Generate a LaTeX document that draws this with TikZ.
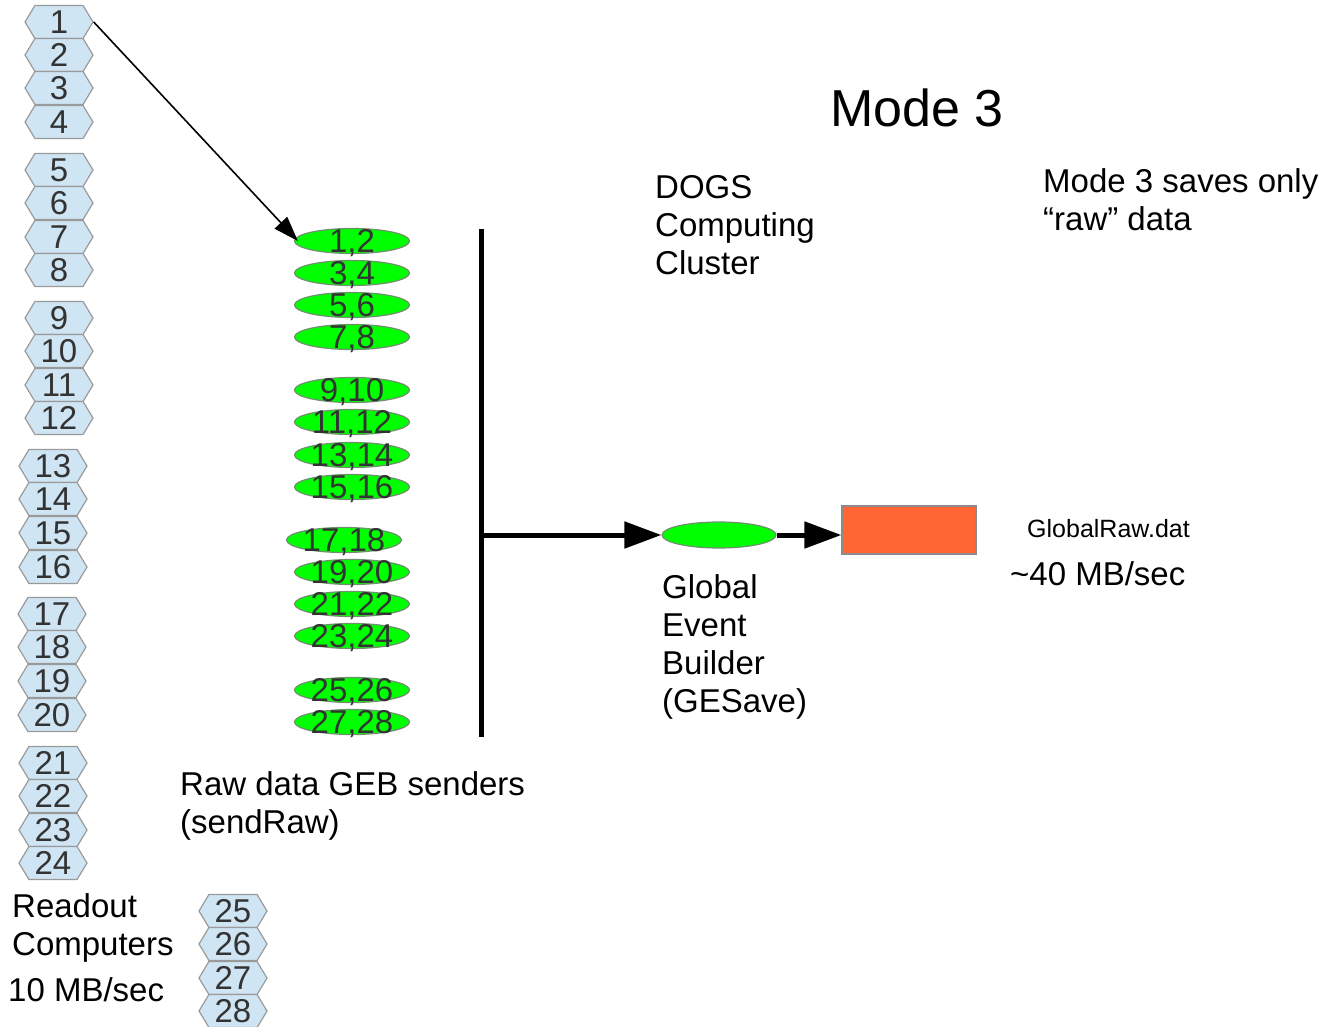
\documentclass[tikz,border=0pt]{standalone}
\usepackage{fontspec}
\setmainfont{Liberation Sans}
\usetikzlibrary{shapes.geometric,shapes.symbols,arrows.meta}

\definecolor{hexfill}{HTML}{CFE5F4}
\definecolor{hexline}{HTML}{9A9A9A}
\definecolor{numtext}{HTML}{333333}
\definecolor{nodegreen}{HTML}{00FF00}
\definecolor{greenline}{HTML}{6F8F6F}
\definecolor{diskfill}{HTML}{FF6633}
\definecolor{diskline}{HTML}{8A8A8A}

\begin{document}
\begin{tikzpicture}[x=1pt,y=-1pt,
  readout/.style={signal, signal to=west and east, signal pointer angle=118,
    minimum width=68pt, minimum height=33pt, inner sep=0pt,
    fill=hexfill, draw=hexline, line width=1.2pt, text=numtext,
    font=\fontsize{33}{33}\selectfont},
  sender/.style={ellipse, minimum width=115pt, minimum height=25pt, inner sep=0pt,
    fill=nodegreen, draw=greenline, line width=1.2pt},
  numlabel/.style={inner sep=0pt, yshift=-2pt, text=numtext, font=\fontsize{33}{33}\selectfont},
  % multi-line notes are anchored at the baseline of their last line
  note/.style={anchor=base west, inner sep=0pt, align=left,
    font=\fontsize{33}{38}\selectfont},
  flow/.style={line width=5pt, -{Triangle[length=37pt,width=26pt]}},
]
\useasboundingbox (0,0) rectangle (1327,1027);

% readout computers
\foreach \n/\x/\y in {1/59/22, 2/59/55, 3/59/88, 4/59/122,
                      5/59/170, 6/59/203, 7/59/237, 8/59/270,
                      9/59/318, 10/59/351, 11/59/385, 12/59/418,
                      13/53/466, 14/53/499, 15/53/533, 16/53/567,
                      17/52/614, 18/52/647, 19/52/681, 20/52/715,
                      21/53/763, 22/53/796, 23/53/830, 24/53/863,
                      25/233/911, 26/233/944, 27/233/978, 28/233/1011}
  \node[readout] (h\n) at (\x,\y) {\n};

% raw data senders
\foreach \a/\b/\x/\y in {1/2/352/241, 3/4/352/273, 5/6/352/305, 7/8/352/337,
                         9/10/352/390, 11/12/352/422, 13/14/352/455, 15/16/352/487,
                         17/18/344/540, 19/20/352/572, 21/22/352/604, 23/24/352/636,
                         25/26/352/690, 27/28/352/722}
  \node[sender, label={[numlabel]center:{\a,\b}}] (e\a) at (\x,\y) {};

% collection bus
\coordinate (bustop) at (481,229);
\coordinate (busbot) at (481,737);
\coordinate (tap) at (481,535);
\draw[line width=5pt] (bustop) -- (busbot);

% global event builder and output file
\node[ellipse, minimum width=114pt, minimum height=26pt, inner sep=0pt,
      fill=nodegreen, draw=greenline, line width=1.2pt] (geb) at (719,535) {};
\node[rectangle, minimum width=134pt, minimum height=48pt, inner sep=0pt,
      fill=diskfill, draw=diskline, line width=1.2pt] (disk) at (909,530) {};

\draw[flow] (tap) -- (geb.west);
\draw[flow] (geb.east) -- (disk.west |- geb.east);

% example connection
\draw[line width=1.6pt, -{Triangle[length=25pt,width=17pt]}] (h1.east) -- ([xshift=4pt]e1.west);

% labels
\node[anchor=base west, inner sep=0pt, font=\fontsize{52}{52}\selectfont] (title) at (830,127) {Mode 3};
\node[note] (dogs) at (655,274) {DOGS\\Computing\\Cluster};
\node[note] (remark) at (1043,230) {Mode 3 saves only\\“raw” data};
\node[note] (gebtext) at (662,712) {Global\\Event\\Builder\\(GESave)};
\node[anchor=base west, inner sep=0pt, font=\fontsize{25}{25}\selectfont] (fname) at (1027,537) {GlobalRaw.dat};
\node[note] (outrate) at (1010,585) {\textasciitilde40 MB/sec};
\node[note] (senders) at (180,833) {Raw data GEB senders\\(sendRaw)};
\node[note] (readout) at (12,955) {Readout\\Computers};
\node[note] (inrate) at (8,1001) {10 MB/sec};
\end{tikzpicture}
\end{document}
